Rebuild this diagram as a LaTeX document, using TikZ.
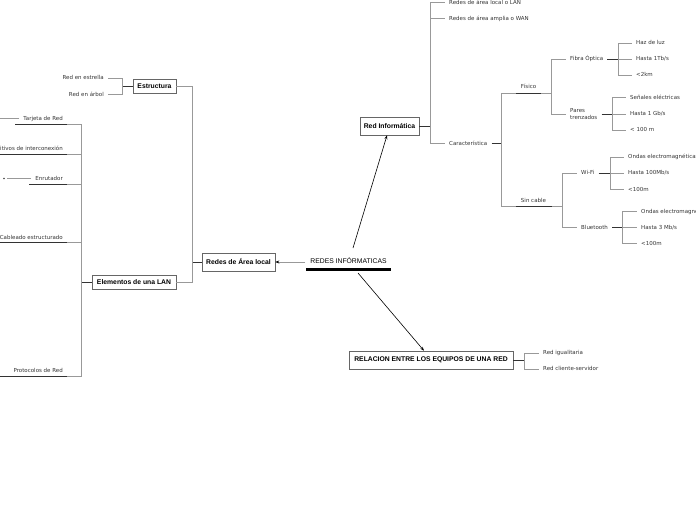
\documentclass[tikz,border=0pt]{standalone}
\usepackage{fontspec}
\setmainfont{Liberation Sans}
\newfontfamily\leaffont{DejaVu Sans}
\usetikzlibrary{arrows.meta}
\begin{document}
\begin{tikzpicture}[x=1pt,y=-1pt,
 box/.style={draw=black!60, line width=0.6pt, fill=white, font=\fontsize{6.8}{8}\selectfont\bfseries, inner sep=0pt},
 leafbase/.style={font=\leaffont\fontsize{5.5}{6.4}\selectfont, text=black!80, inner xsep=4pt, inner ysep=1pt},
 leaf/.style={leafbase, text height=4pt, text depth=1pt},
 conn/.style={draw=black!40, line width=0.6pt},
 dk/.style={draw=black!80, line width=0.8pt},
 arr/.style={draw=black, line width=0.6pt, -{Stealth[length=4pt,width=3pt]}},
]
\useasboundingbox (0,0) rectangle (696,520);

% ---------- central topic ----------
\node[font=\fontsize{6.8}{8}\selectfont, inner sep=1pt] (c) at (348.5,260.5) {REDES INFÓRMATICAS};
\coordinate (cu1) at (306,269.5);
\coordinate (cu2) at (391,269.5);
\draw[black, line width=2.2pt] (cu1) -- (cu2);

% ---------- main boxes ----------
\node[box, minimum width=73pt, minimum height=18pt] (ral) at (238.5,262) {Redes de Área local};
\node[box, minimum width=43pt, minimum height=14pt] (est) at (154.5,86) {Estructura};
\node[box, minimum width=84pt, minimum height=14pt] (ele) at (134,282) {Elementos de una LAN};
\node[box, minimum width=59pt, minimum height=18pt] (ri) at (389.5,126) {Red Informática};
\node[box, minimum width=164pt, minimum height=18pt] (rel) at (431,360) {RELACION ENTRE LOS EQUIPOS DE UNA RED};

% ---------- arrows from the central topic ----------
\coordinate (cL) at (305,262);
\coordinate (cT) at (353,248);
\coordinate (cB) at (358,273);
\draw[conn, -{Stealth[length=4pt,width=3pt,color=black]}] (cL) -- (ral.east);
\draw[arr] (cT) -- ([xshift=-2.5pt]ri.south);
\draw[arr] (cB) -- ([xshift=-7pt]rel.north);

% ---------- Redes de Area local ----------
\coordinate (jral) at (192,262);
\draw[dk] (ral.west) -- (jral);
\draw[conn] (jral) |- (est.east);
\draw[conn] (jral) |- (ele.east);

% Estructura
\coordinate (jest) at (122,86);
\node[leaf, anchor=east] (re1) at (108,78) {Red en estrella};
\node[leaf, anchor=east] (re2) at (108,94.5) {Red en árbol};
\draw[dk] (est.west) -- (jest);
\draw[conn] (jest) |- (re1.east);
\draw[conn] (jest) |- (re2.east);

% Elementos de una LAN
\coordinate (jele) at (81,282);
\draw[dk] (ele.west) -- (jele);

\node[leaf, anchor=east] (tar) at (67,118.5) {Tarjeta de Red};
\node[leaf, anchor=east] (dis) at (67,148.5) {Dispositivos de interconexión};
\node[leaf, anchor=east] (enr) at (67,178.5) {Enrutador};
\node[leaf, anchor=east] (cab) at (67,237.5) {Cableado estructurado};
\node[leaf, anchor=east] (pro) at (67,370.5) {Protocolos de Red};

\coordinate (tarU) at (67,124.5);  \coordinate (tarUL) at (15,124.5);
\coordinate (disU) at (67,154.5);  \coordinate (disUL) at (-2,154.5);
\coordinate (enrU) at (67,184.5);  \coordinate (enrUL) at (29,184.5);
\coordinate (cabU) at (67,242.5);  \coordinate (cabUL) at (-2,242.5);
\coordinate (proU) at (67,376.5);  \coordinate (proUL) at (-2,376.5);

\draw[conn] (jele) |- (tarU);
\draw[conn] (jele) |- (disU);
\draw[conn] (jele) |- (enrU);
\draw[conn] (jele) |- (cabU);
\draw[conn] (jele) |- (proU);
\draw[dk] (tarU) -- (tarUL);
\draw[dk] (disU) -- (disUL);
\draw[dk] (enrU) -- (enrUL);
\draw[dk] (cabU) -- (cabUL);
\draw[dk] (proU) -- (proUL);

\coordinate (tarL) at (-2,118.5);
\draw[conn] (tar.west) -- (tarL);
\coordinate (enrL) at (7,178.5);
\coordinate (enrD) at (4,178.5);
\draw[conn] (enr.west) -- (enrL);
\fill[black!75] (enrD) circle (0.8);

% ---------- Red Informatica ----------
\coordinate (jri) at (430,126);
\draw[dk] (ri.east) -- (jri);
\node[leaf, anchor=west] (lan) at (445,2.5) {Redes de área local o LAN};
\node[leaf, anchor=west] (wan) at (445,18.5) {Redes de área amplia o WAN};
\node[leaf, anchor=west] (car) at (445,143.5) {Característica};
\draw[conn] (jri) |- (lan.west);
\draw[conn] (jri) |- (wan.west);
\draw[conn] (jri) |- (car.west);

\coordinate (jcar) at (501,143.5);
\draw[dk] (car.east) -- (jcar);

% Fisico
\node[leaf] (fis) at (528.5,87) {Físico};
\coordinate (fisU1) at (516,93);
\coordinate (fisU2) at (541,93);
\coordinate (jfis) at (551,93);
\draw[conn] (jcar) |- (fisU1);
\draw[dk] (fisU1) -- (fisU2);
\draw[conn] (fisU2) -- (jfis);

% Sin cable
\node[leaf] (sin) at (533.5,200.5) {Sin cable};
\coordinate (sinU1) at (516,206);
\coordinate (sinU2) at (552,206);
\coordinate (jsin) at (562,206);
\draw[conn] (jcar) |- (sinU1);
\draw[dk] (sinU1) -- (sinU2);
\draw[conn] (sinU2) -- (jsin);

% Fibra optica
\node[leaf, anchor=west] (fo) at (566,59) {Fibra Óptica};
\draw[conn] (jfis) |- (fo.west);
\coordinate (jfo) at (618,59);
\draw[dk] (fo.east) -- (jfo);
\node[leaf, anchor=west] (fo1) at (632,43) {Haz de luz};
\node[leaf, anchor=west] (fo2) at (632,59) {Hasta 1Tb/s};
\node[leaf, anchor=west] (fo3) at (632,75) {<2km};
\draw[conn] (jfo) |- (fo1.west);
\draw[conn] (jfo) -- (fo2.west);
\draw[conn] (jfo) |- (fo3.west);

% Pares trenzados
\node[leafbase, anchor=west, align=left] (pt) at (566,114) {Pares\\trenzados};
\draw[conn] (jfis) |- (pt.west);
\coordinate (jpt) at (612,114);
\draw[dk] (pt.east) -- (jpt);
\node[leaf, anchor=west] (pt1) at (626,97.5) {Señales eléctricas};
\node[leaf, anchor=west] (pt2) at (626,114) {Hasta 1 Gb/s};
\node[leaf, anchor=west] (pt3) at (626,130) {< 100 m};
\draw[conn] (jpt) |- (pt1.west);
\draw[conn] (jpt) -- (pt2.west);
\draw[conn] (jpt) |- (pt3.west);

% Wi-Fi
\node[leaf, anchor=west] (wf) at (577,173) {Wi-Fi};
\draw[conn] (jsin) |- (wf.west);
\coordinate (jwf) at (610,173);
\draw[dk] (wf.east) -- (jwf);
\node[leaf, anchor=west] (wf1) at (624,157) {Ondas electromagnéticas};
\node[leaf, anchor=west] (wf2) at (624,173) {Hasta 100Mb/s};
\node[leaf, anchor=west] (wf3) at (624,189.5) {<100m};
\draw[conn] (jwf) |- (wf1.west);
\draw[conn] (jwf) -- (wf2.west);
\draw[conn] (jwf) |- (wf3.west);

% Bluetooth
\node[leaf, anchor=west] (bt) at (577,227.5) {Bluetooth};
\draw[conn] (jsin) |- (bt.west);
\coordinate (jbt) at (622,227.5);
\draw[dk] (bt.east) -- (jbt);
\node[leaf, anchor=west] (bt1) at (637,211.5) {Ondas electromagnéticas};
\node[leaf, anchor=west] (bt2) at (637,227.5) {Hasta 3 Mb/s};
\node[leaf, anchor=west] (bt3) at (637,243.5) {<100m};
\draw[conn] (jbt) |- (bt1.west);
\draw[conn] (jbt) -- (bt2.west);
\draw[conn] (jbt) |- (bt3.west);

% ---------- Relacion ----------
\coordinate (jrel) at (524,360);
\draw[dk] (rel.east) -- (jrel);
\node[leaf, anchor=west] (rl1) at (539,353) {Red igualitaria};
\node[leaf, anchor=west] (rl2) at (539,369) {Red cliente-servidor};
\draw[conn] (jrel) |- (rl1.west);
\draw[conn] (jrel) |- (rl2.west);
\end{tikzpicture}
\end{document}
